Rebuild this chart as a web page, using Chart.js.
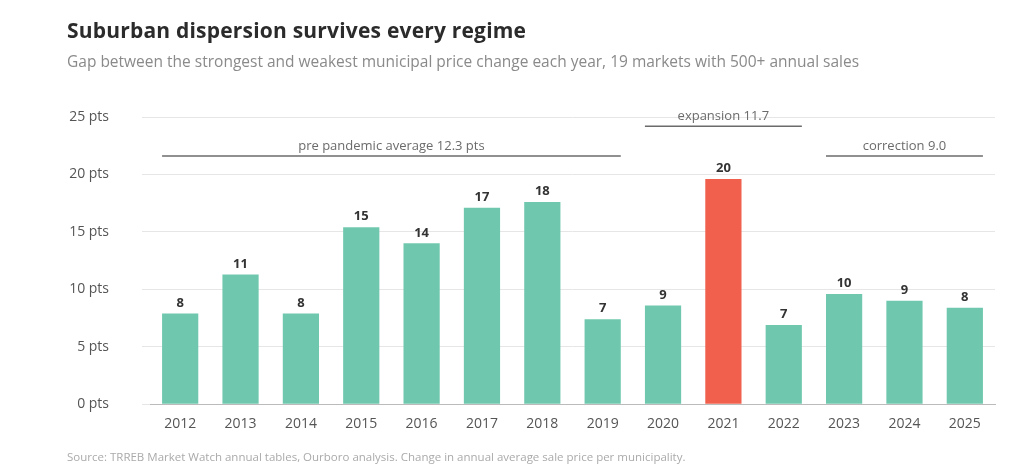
<!DOCTYPE html>
<html><head><meta charset="utf-8">
<script src="https://cdn.jsdelivr.net/npm/chart.js@4"></script>
<style>
body{margin:0;background:#fff;font-family:"Open Sans","Noto Sans",sans-serif;}
#wrap{position:relative;width:1024px;height:475px;}
#t{position:absolute;left:67px;top:16px;font-size:21px;font-weight:700;color:#2b2b2b;letter-spacing:0.2px;}
#s{position:absolute;left:67px;top:50px;font-size:15.5px;color:#8a8a8a;}
#src{position:absolute;left:67px;top:449px;font-size:11.5px;color:#aaa;}
canvas{position:absolute;left:0;top:0;}
</style></head><body>
<div id="wrap">
<canvas id="c" width="1024" height="475"></canvas>
<div id="t">Suburban dispersion survives every regime</div>
<div id="s">Gap between the strongest and weakest municipal price change each year, 19 markets with 500+ annual sales</div>
<div id="src">Source: TRREB Market Watch annual tables, Ourboro analysis. Change in annual average sale price per municipality.</div>
</div>
<script>
const years = ['2012','2013','2014','2015','2016','2017','2018','2019','2020','2021','2022','2023','2024','2025'];
const gaps = [7.9, 11.3, 7.9, 15.4, 14.0, 17.1, 17.6, 7.4, 8.6, 19.6, 6.9, 9.6, 9.0, 8.4];
const regimeLabels = ['pre pandemic average 12.3 pts', 'expansion 11.7', 'correction 9.0'];
const regimeStart = [0, 8, 11];
const regimeEnd = [7, 10, 13];
const regimeLevel = [21.6, 24.2, 21.6];

const regimePlugin = {
    id: 'regimes',
    afterDatasetsDraw(chart) {
        const ctx = chart.ctx, y = chart.scales.y;
        const meta = chart.getDatasetMeta(0);
        ctx.save();
        regimeLabels.forEach((lab, i) => {
            const a = meta.data[regimeStart[i]], b = meta.data[regimeEnd[i]];
            const x0 = a.x - a.width / 2, x1 = b.x + b.width / 2;
            const yy = y.getPixelForValue(regimeLevel[i]);
            ctx.strokeStyle = '#6b6b6b'; ctx.lineWidth = 1.5;
            ctx.beginPath(); ctx.moveTo(x0, yy); ctx.lineTo(x1, yy); ctx.stroke();
            ctx.fillStyle = '#6b6b6b'; ctx.font = '13px "Open Sans"';
            ctx.textAlign = 'center'; ctx.textBaseline = 'bottom';
            ctx.fillText(lab, (x0 + x1) / 2, yy - 3);
        });
        ctx.font = 'bold 13px "Open Sans"'; ctx.fillStyle = '#333';
        meta.data.forEach((bar, i) => {
            ctx.fillText(Math.round(gaps[i]), bar.x, bar.y - 4);
        });
        ctx.restore();
    }
};

new Chart(document.getElementById('c'), {
    type: 'bar',
    data: {
        labels: years,
        datasets: [{
            data: gaps,
            backgroundColor: years.map(y => y === '2021' ? '#f0604d' : '#6fc8ae'),
            barPercentage: 0.6,
            categoryPercentage: 1
        }]
    },
    options: {
        responsive: false,
        animation: false,
        layout: {padding: {left: 0, right: 29, top: 117, bottom: 40}},
        plugins: {legend: {display: false}, tooltip: {enabled: false}},
        scales: {
            x: {
                grid: {display: false},
                border: {color: '#bbb'},
                ticks: {color: '#555', font: {size: 14, family: 'Open Sans'}}
            },
            y: {
                min: 0, max: 25,
                afterFit: s => { s.width = 150; },
                ticks: {stepSize: 5, padding: 33, color: '#555', font: {size: 14, family: 'Open Sans'},
                        callback: v => v + ' pts'},
                grid: {color: '#e6e6e6'},
                border: {display: false}
            }
        }
    },
    plugins: [regimePlugin]
});
</script>
</body></html>
